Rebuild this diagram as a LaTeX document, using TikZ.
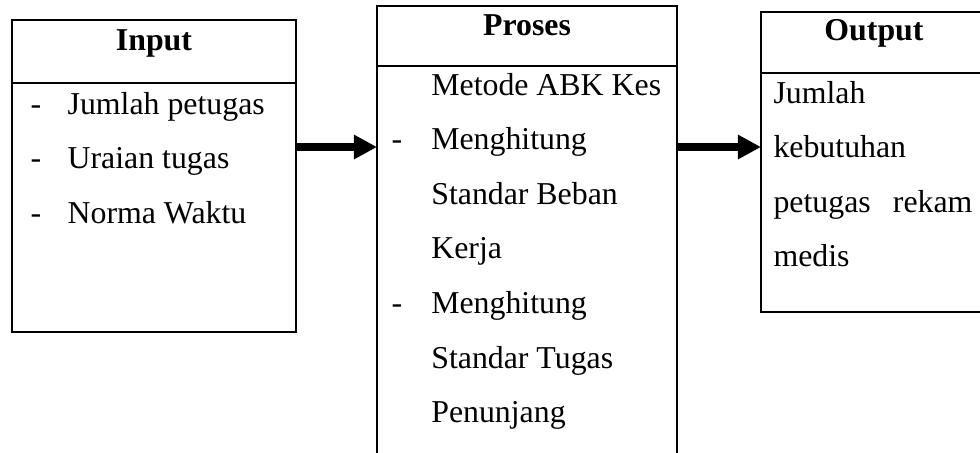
\documentclass[tikz,border=0pt]{standalone}
\usepackage{fontspec}
\setmainfont{Liberation Serif}
\usetikzlibrary{arrows.meta}
\begin{document}
\begin{tikzpicture}[x=0.377pt, y=-0.377pt,
    box/.style={draw, line width=1pt, inner sep=0pt, outer sep=0pt,
      anchor=north west},
    title/.style={font=\fontsize{12}{14}\selectfont\bfseries, anchor=base,
      inner sep=0pt},
    body/.style={font=\fontsize{12}{20.6}\selectfont, anchor=base west,
      inner sep=0pt},
    flow/.style={line width=3pt, -{Triangle[length=8.7pt, width=8.7pt]}}]
  \def\pxu{0.377pt}
  \useasboundingbox (0,0) rectangle (980,452);
  \clip (0,0) rectangle (980,452);
  % input
  \node[box, minimum width=284*\pxu, minimum height=63*\pxu] (inhead) at (12,20) {};
  \node[box, minimum width=284*\pxu, minimum height=249*\pxu] (inbody)
    at (inhead.south west) {};
  \node[title] (tin) at (154,50) {Input};
  \node[body] (lin) at (30,114) {\begin{tabular}[t]{@{}p{14pt}@{}l@{}}
      - & Jumlah petugas\\
      - & Uraian tugas\\
      - & Norma Waktu
    \end{tabular}};
  % proses
  \node[box, minimum width=300*\pxu, minimum height=60*\pxu] (prohead) at (377,6) {};
  \node[box, minimum width=300*\pxu, minimum height=400*\pxu] (probody)
    at (prohead.south west) {};
  \node[title] (tpro) at (527,35) {Proses};
  \node[body] (lpro) at (391,95) {\begin{tabular}[t]{@{}p{15pt}@{}l@{}}
      & Metode ABK Kes\\
      - & Menghitung\\
      & Standar Beban\\
      & Kerja\\
      - & Menghitung\\
      & Standar Tugas\\
      & Penunjang
    \end{tabular}};
  % output
  \node[box, minimum width=226*\pxu, minimum height=61*\pxu] (outhead) at (761,12) {};
  \node[box, minimum width=226*\pxu, minimum height=239*\pxu] (outbody)
    at (outhead.south west) {};
  \node[title] (tout) at (874,40) {Output};
  \node[body] (lout) at (773,103) {\begin{tabular}[t]{@{}l@{}}
      Jumlah\\
      kebutuhan\\
      \makebox[75pt][s]{petugas rekam}\\
      medis
    \end{tabular}};
  % arrows
  \coordinate (lvl) at (0,147);
  \draw[flow] (inbody.east |- lvl) -- (probody.west |- lvl);
  \draw[flow] (probody.east |- lvl) -- (outbody.west |- lvl);
\end{tikzpicture}
\end{document}
